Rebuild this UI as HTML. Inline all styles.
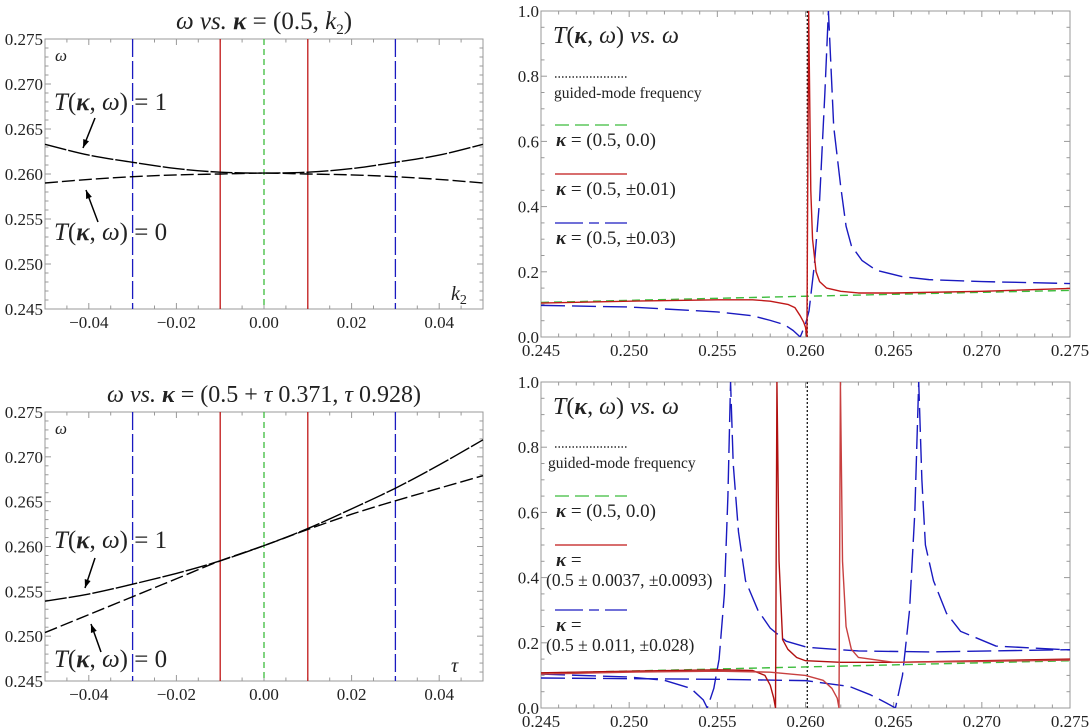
<!DOCTYPE html>
<html><head><meta charset="utf-8">
<style>
html,body{margin:0;padding:0;background:#fff;}
svg{display:block;}
text{font-family:"Liberation Serif","DejaVu Serif",serif;fill:#222;}
</style></head>
<body>
<svg id="fig" width="1089" height="727" viewBox="0 0 1089 727" xmlns="http://www.w3.org/2000/svg"></svg>
<script>
// ---- data: top-left (omega vs k2) ----
const tlK = [-0.05,-0.04,-0.03,-0.02,-0.01,0,0.01,0.02,0.03,0.04,0.05];
const tlT1 = [0.2633,0.2621,0.2613,0.2606,0.2602,0.2601,0.2602,0.2606,0.2613,0.2621,0.2633];
const tlT0 = [0.2590,0.2594,0.2597,0.2599,0.2600,0.2601,0.2600,0.2599,0.2597,0.2594,0.2590];
const tlVlines = [-0.03,-0.01,0,0.01,0.03];
// ---- data: bottom-left (omega vs tau) ----
const blTau = [-0.05,-0.04,-0.03,-0.02,-0.01,0,0.01,0.02,0.03,0.04,0.05];
const blT1 = [0.2539,0.2547,0.2558,0.2570,0.2584,0.2601,0.2620,0.2642,0.2665,0.2691,0.2719];
const blT0 = [0.2504,0.2524,0.2544,0.2564,0.2584,0.2601,0.2619,0.2636,0.2651,0.2665,0.2679];
const blVlines = [-0.03,-0.01,0,0.01,0.03];
// ---- data: top-right (T vs omega) ----
const guidedFreq = 0.2601;
const trGreenW = [0.245,0.260,0.275];
const trGreenT = [0.106,0.125,0.143];
const trRedW = [0.245,0.250,0.255,0.257,0.258,0.259,0.2594,0.2597,0.2599,0.2600,0.26008,0.26018,0.2603,0.2604,0.2606,0.2608,0.2612,0.2620,0.2630,0.2650,0.2700,0.2750];
const trRedT = [0.104,0.110,0.114,0.114,0.110,0.100,0.090,0.065,0.045,0.030,0.0,1.0,0.45,0.30,0.20,0.17,0.15,0.14,0.135,0.135,0.14,0.149];
const trBlueW = [0.245,0.250,0.255,0.257,0.258,0.2588,0.2593,0.2597,0.2600,0.2602,0.2605,0.2608,0.2611,0.2613,0.2616,0.2620,0.2623,0.2626,0.2632,0.2640,0.2655,0.2670,0.2700,0.2750];
const trBlueT = [0.097,0.092,0.077,0.065,0.051,0.038,0.020,0.0,0.04,0.08,0.22,0.42,0.75,1.0,0.645,0.46,0.34,0.28,0.235,0.205,0.185,0.176,0.17,0.164];
// ---- data: bottom-right ----
const brGreenW = [0.245,0.260,0.275];
const brGreenT = [0.107,0.126,0.145];
const brRedAW = [0.245,0.250,0.255,0.257,0.2577,0.2580,0.2582,0.2583,0.25838,0.2585,0.2587,0.2590,0.2595,0.2600,0.2620,0.2650,0.2700,0.2750];
const brRedAT = [0.108,0.113,0.117,0.115,0.10,0.07,0.03,0.0,1.0,0.45,0.21,0.18,0.155,0.145,0.140,0.140,0.145,0.150];
const brRedBW = [0.245,0.250,0.255,0.258,0.260,0.2610,0.2615,0.2618,0.2619,0.26198,0.2621,0.2623,0.2626,0.2630,0.2650,0.2700,0.2750];
const brRedBT = [0.104,0.110,0.113,0.110,0.100,0.085,0.06,0.03,0.0,1.0,0.45,0.25,0.18,0.155,0.14,0.143,0.147];
const brBlueCW = [0.245,0.250,0.252,0.2535,0.2542,0.25443,0.2548,0.2551,0.2554,0.2556,0.25575,0.2559,0.2562,0.2566,0.2573,0.2580,0.2589,0.2601,0.2630,0.2670,0.2750];
const brBlueCT = [0.104,0.095,0.085,0.06,0.025,0.0,0.06,0.15,0.35,0.65,1.0,0.75,0.54,0.39,0.30,0.245,0.205,0.186,0.175,0.172,0.179];
const brBlueDW = [0.245,0.250,0.255,0.260,0.2625,0.2637,0.2646,0.2651,0.2655,0.2659,0.2662,0.26642,0.2666,0.2668,0.26726,0.2680,0.2688,0.2708,0.2750];
const brBlueDT = [0.092,0.090,0.088,0.084,0.066,0.040,0.015,0.0,0.10,0.30,0.60,1.0,0.70,0.50,0.39,0.29,0.235,0.19,0.178];
// ---- tick labels ----
const leftYTicks = [0.245,0.250,0.255,0.260,0.265,0.270,0.275];
const leftXTicks = [-0.04,-0.02,0.00,0.02,0.04];
const rightYTicks = [0.0,0.2,0.4,0.6,0.8,1.0];
const rightXTicks = [0.245,0.250,0.255,0.260,0.265,0.270,0.275];

const NS = "http://www.w3.org/2000/svg";
const svg = document.getElementById('fig');
function mk(tag, attrs, parent){
  const e = document.createElementNS(NS, tag);
  for (const k in attrs) e.setAttribute(k, attrs[k]);
  (parent||svg).appendChild(e);
  return e;
}
function makeAxes(x0,x1,y0,y1,xmin,xmax,ymin,ymax){
  return {x0,x1,y0,y1,
    sx:v=>x0+(v-xmin)/(xmax-xmin)*(x1-x0),
    sy:v=>y1-(v-ymin)/(ymax-ymin)*(y1-y0)};
}
function frame(ax, name, xt, yt, xfmt, yfmt, xminor, yminor, xmin, xmax, ymin, ymax){
  const g = mk('g',{});
  
  
  mk('rect',{x:ax.x0,y:ax.y0,width:ax.x1-ax.x0,height:ax.y1-ax.y0,fill:'none',stroke:'#999','stroke-width':1},g);
  for(let v=xmin; v<=xmax+1e-9; v+=xminor){
    const major = xt.some(t=>Math.abs(t-v)<1e-9);
    const L = major?6:3.5, x=ax.sx(v);
    mk('line',{x1:x,x2:x,y1:ax.y1,y2:ax.y1-L,stroke:'#999'},g);
    mk('line',{x1:x,x2:x,y1:ax.y0,y2:ax.y0+L,stroke:'#999'},g);
  }
  for(let v=ymin; v<=ymax+1e-9; v+=yminor){
    const major = yt.some(t=>Math.abs(t-v)<1e-9);
    const L = major?6:3.5, y=ax.sy(v);
    mk('line',{x1:ax.x0,x2:ax.x0+L,y1:y,y2:y,stroke:'#999'},g);
    mk('line',{x1:ax.x1,x2:ax.x1-L,y1:y,y2:y,stroke:'#999'},g);
  }
  xt.forEach(v=>{
    const t = mk('text',{x:ax.sx(v),y:ax.y1+19,'text-anchor':'middle','font-size':17},g);
    
    
    t.textContent = xfmt(v);
  });
  yt.forEach(v=>{
    const t = mk('text',{x:ax.x0-2,y:ax.sy(v)+6,'text-anchor':'end','font-size':17},g);
    
    
    t.textContent = yfmt(v);
  });
}
function smoothPath(ax, xs, ys){
  const p = xs.map((x,i)=>[ax.sx(x),ax.sy(ys[i])]);
  let d = 'M'+p[0][0]+','+p[0][1];
  for(let i=0;i<p.length-1;i++){
    const p0=p[Math.max(0,i-1)],p1=p[i],p2=p[i+1],p3=p[Math.min(p.length-1,i+2)];
    const c1=[p1[0]+(p2[0]-p0[0])/6,p1[1]+(p2[1]-p0[1])/6];
    const c2=[p2[0]-(p3[0]-p1[0])/6,p2[1]-(p3[1]-p1[1])/6];
    d+=' C'+c1+' '+c2+' '+p2;
  }
  return d;
}
function linePath(ax, xs, ys){
  return xs.map((x,i)=>(i?'L':'M')+ax.sx(x).toFixed(2)+','+ax.sy(ys[i]).toFixed(2)).join(' ');
}
const fmtL = v=> (v<0?'\u2212':'')+Math.abs(v).toFixed(2);
const fmt3 = v=> v.toFixed(3);
const fmt1 = v=> v.toFixed(1);
const RED='#c01818', BLUE='#1a1ac0', GREEN='#3cbc3c';

function vline(ax, v, color, dash, name, w){
  const l = mk('line',{x1:ax.sx(v),x2:ax.sx(v),y1:ax.y0,y2:ax.y1,stroke:color,'stroke-width':w||1.3,'stroke-dasharray':dash||'none'});
  
  
}
function vlineColors(v){ if(Math.abs(v)>0.02) return [BLUE,'18,4']; if(Math.abs(v)>0.005) return [RED,'none']; return [GREEN,'6,4']; }

// ===== left panels =====
function leftPanel(ax, name, xs, T1, T0, vls, titleHTML, titleSize, xvar, ty1, ty0, a1, a0){
  frame(ax,name,leftXTicks,leftYTicks,fmtL,fmt3,0.005,0.001,-0.05,0.05,0.245,0.275);
  vls.forEach(v=>{const c=vlineColors(v); vline(ax,v,c[0],c[1],name+'-kappa-line');});
  let p = mk('path',{d:smoothPath(ax,xs,T1),fill:'none',stroke:'#000','stroke-width':1.4,'stroke-dasharray':'22,2'});
   
  p = mk('path',{d:smoothPath(ax,xs,T0),fill:'none',stroke:'#000','stroke-width':1.4,'stroke-dasharray':'13,4'});
   
  let t = mk('text',{x:(ax.x0+ax.x1)/2,y:ax.y0-10,'text-anchor':'middle','font-size':titleSize});
   
  t.innerHTML = titleHTML;
  t = mk('text',{x:ax.x0+10,y:ax.y0+22,'font-size':17,'font-style':'italic'});
    t.textContent='ω';
  t = mk('text',{x:ax.x1-32,y:ax.y1-9,'font-size':20,'font-style':'italic'});
    t.innerHTML=xvar;
  [[ty1,'1','t1-label'],[ty0,'0','t0-label']].forEach(a=>{
    const tt = mk('text',{x:ax.x0+9,y:a[0],'font-size':25});
     
    tt.innerHTML = '<tspan font-style="italic">T</tspan>(<tspan font-weight="bold" font-style="italic">κ</tspan>, <tspan font-style="italic">ω</tspan>) = '+a[1];
  });
  [a1,a0].forEach((a,i)=>{
    const g = mk('g',{});
     
    mk('line',{x1:a[0],y1:a[1],x2:a[2],y2:a[3],stroke:'#000','stroke-width':1.5},g);
    const ang=Math.atan2(a[3]-a[1],a[2]-a[0]), L=9;
    const pts=[[a[2],a[3]],[a[2]-L*Math.cos(ang-0.35),a[3]-L*Math.sin(ang-0.35)],[a[2]-L*Math.cos(ang+0.35),a[3]-L*Math.sin(ang+0.35)]];
    mk('polygon',{points:pts.map(q=>q.join(',')).join(' '),fill:'#000'},g);
  });
}
const axTL = makeAxes(45,483,39,309,-0.05,0.05,0.245,0.275);
leftPanel(axTL,'top-left',tlK,tlT1,tlT0,tlVlines,
 '<tspan font-style="italic">ω</tspan>  <tspan font-style="italic">vs.</tspan>  <tspan font-weight="bold" font-style="italic">κ</tspan> = (0.5, <tspan font-style="italic">k</tspan><tspan font-size="15" dy="5">2</tspan><tspan dy="-5">)</tspan>', 25,
 '<tspan>k</tspan><tspan font-size="14" dy="4" font-style="normal">2</tspan>',110,240,[95,118,83,148],[98,222,86,190]);
const axBL = makeAxes(45,483,412,681,-0.05,0.05,0.245,0.275);
leftPanel(axBL,'bottom-left',blTau,blT1,blT0,blVlines,
 '<tspan font-style="italic">ω</tspan>  <tspan font-style="italic">vs.</tspan>  <tspan font-weight="bold" font-style="italic">κ</tspan> = (0.5 + <tspan font-style="italic">τ</tspan> 0.371,  <tspan font-style="italic">τ</tspan> 0.928)', 24,
 'τ',548,667,[95,558,85,588],[101,652,91,624]);

// ===== right panels =====
function rightPanel(ax, name, series, legendItems){
  frame(ax,name,rightXTicks,rightYTicks,fmt3,fmt1,0.001,0.05,0.245,0.275,0,1);
  const cid = name+'-clip';
  const cp = mk('clipPath',{id:cid}); mk('rect',{x:ax.x0,y:ax.y0,width:ax.x1-ax.x0,height:ax.y1-ax.y0},cp);
  const g = mk('g',{'clip-path':'url(#'+cid+')'});
  const gm = mk('line',{x1:ax.sx(guidedFreq),x2:ax.sx(guidedFreq),y1:ax.y0,y2:ax.y1,stroke:'#000','stroke-width':1.2,'stroke-dasharray':'2,2'},g);
   
  series.forEach(s=>{
    const p = mk('path',{d:linePath(ax,s.w,s.t),fill:'none',stroke:s.c,'stroke-width':1.4,'stroke-dasharray':s.d,'stroke-linejoin':'round'},g);
     
  });
  let t = mk('text',{x:ax.x0+12,y:ax.y0+32,'font-size':24});
   
  t.innerHTML='<tspan font-style="italic">T</tspan>(<tspan font-weight="bold" font-style="italic">κ</tspan>, <tspan font-style="italic">ω</tspan>)  <tspan font-style="italic">vs.</tspan>  <tspan font-style="italic">ω</tspan>';
  legendItems.forEach(it=>{
    const g2 = mk('g',{});
     
    mk('line',{x1:ax.x0+14,x2:ax.x0+86,y1:it.y,y2:it.y,stroke:it.c,'stroke-width':1.3,'stroke-dasharray':it.d},g2);
    it.lines.forEach((l,i)=>{
      const tt = mk('text',{x:ax.x0+(l.x||15),y:it.y+21+i*20,'font-size':l.fs||19},g2);
      tt.innerHTML=l.h;
    });
  });
}
const K = '<tspan font-weight="bold" font-style="italic">κ</tspan>';
const axTR = makeAxes(541,1070,11,337,0.245,0.275,0,1);
rightPanel(axTR,'top-right',[
  {w:trGreenW,t:trGreenT,c:GREEN,d:'8,5',n:'green-curve'},
  {w:trBlueW,t:trBlueT,c:BLUE,d:'24,7',n:'blue-curve'},
  {w:trRedW,t:trRedT,c:RED,d:'none',n:'red-curve'}],
 [{y:77,c:'#000',d:'1.5,2',lines:[{h:'guided-mode frequency',x:13,fs:15.5}]},
  {y:125,c:GREEN,d:'14,6',lines:[{h:K+' = (0.5, 0.0)'}]},
  {y:174,c:RED,d:'none',lines:[{h:K+' = (0.5, ±0.01)'}]},
  {y:223,c:BLUE,d:'28,6,10,6',lines:[{h:K+' = (0.5, ±0.03)'}]}]);
const axBR = makeAxes(541,1070,382,708,0.245,0.275,0,1);
rightPanel(axBR,'bottom-right',[
  {w:brGreenW,t:brGreenT,c:GREEN,d:'8,5',n:'green-curve'},
  {w:brBlueCW,t:brBlueCT,c:BLUE,d:'24,7',n:'blue-curve-a'},
  {w:brBlueDW,t:brBlueDT,c:BLUE,d:'24,7',n:'blue-curve-b'},
  {w:brRedAW,t:brRedAT,c:'#b01010',d:'none',n:'red-curve-a'},
  {w:brRedBW,t:brRedBT,c:'#c84040',d:'none',n:'red-curve-b'}],
 [{y:447,c:'#000',d:'1.5,2',lines:[{h:'guided-mode frequency',x:7,fs:15.5}]},
  {y:496,c:GREEN,d:'14,6',lines:[{h:K+' = (0.5, 0.0)'}]},
  {y:545,c:RED,d:'none',lines:[{h:K+' ='},{h:'(0.5 ± 0.0037, ±0.0093)',x:5,fs:17.5}]},
  {y:610,c:BLUE,d:'28,6,10,6',lines:[{h:K+' ='},{h:'(0.5 ± 0.011, ±0.028)',x:5,fs:17.5}]}]);
</script>
</body></html>
